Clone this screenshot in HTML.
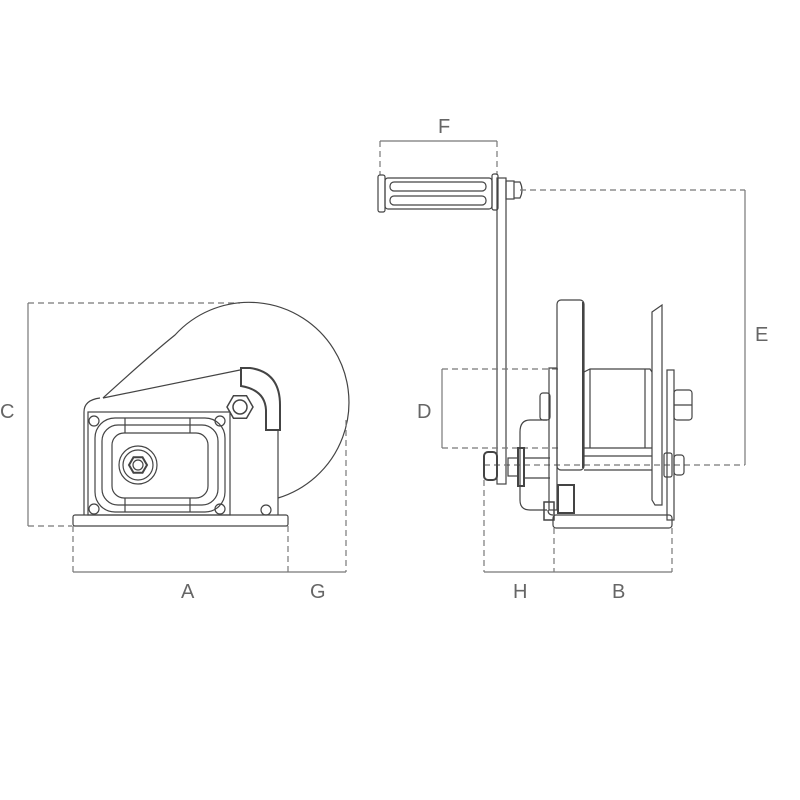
<!DOCTYPE html>
<html><head><meta charset="utf-8"><style>
html,body{margin:0;padding:0;background:#fff;}
svg{display:block;}
text{font-family:"Liberation Sans",sans-serif;font-size:20px;fill:#666;}
</style></head><body>
<svg width="800" height="800" viewBox="0 0 800 800" xmlns="http://www.w3.org/2000/svg">
<g fill="none" stroke="#444" stroke-width="1.2">
<!-- ===== LEFT VIEW ===== -->
<line x1="28" y1="303" x2="240" y2="303" stroke-dasharray="6,4" stroke="#777"/>
<line x1="28" y1="526" x2="72" y2="526" stroke-dasharray="6,4" stroke="#777"/>
<line x1="28" y1="303" x2="28" y2="526" stroke="#777"/>
<path d="M103 398 C125 378 150 355 175 335 A100 100 0 1 1 278 498"/>
<path d="M103 398 L240 370"/>
<path d="M84 515 L84 412 Q84 400 100 398"/>
<line x1="278" y1="420" x2="278" y2="515"/>
<rect x="73" y="515" width="215" height="11" rx="2"/>
<rect x="88" y="412" width="142" height="103"/>
<rect x="95" y="418" width="130" height="94" rx="20"/>
<rect x="102" y="425" width="116" height="80" rx="16"/>
<rect x="112" y="433" width="96" height="65" rx="12"/>
<line x1="125" y1="418" x2="125" y2="433"/><line x1="190" y1="418" x2="190" y2="433"/>
<line x1="125" y1="498" x2="125" y2="512"/><line x1="190" y1="498" x2="190" y2="512"/>
<circle cx="94" cy="421" r="5"/><circle cx="220" cy="421" r="5"/>
<circle cx="94" cy="509" r="5"/><circle cx="220" cy="509" r="5"/>
<circle cx="266" cy="510" r="5"/>
<circle cx="138" cy="465" r="19"/><circle cx="138" cy="465" r="15"/>
<polygon points="147,465 142.5,457.2 133.5,457.2 129,465 133.5,472.8 142.5,472.8" stroke-width="2"/>
<circle cx="138" cy="465" r="5"/>
<polygon points="253,407 246.5,395.7 233.5,395.7 227,407 233.5,418.3 246.5,418.3" stroke-width="1.5"/>
<circle cx="240" cy="407" r="7" stroke-width="1.5"/>
<path d="M241 368 L250 368 Q280 372 280 405 L280 430 L266 430 L266 410 Q265 390 241 386 Z" stroke-width="2" fill="#fff"/>
<line x1="73" y1="526" x2="73" y2="572" stroke-dasharray="6,4" stroke="#777"/>
<line x1="288" y1="526" x2="288" y2="572" stroke-dasharray="6,4" stroke="#777"/>
<line x1="346" y1="420" x2="346" y2="572" stroke-dasharray="6,4" stroke="#777"/>
<line x1="73" y1="572" x2="346" y2="572" stroke="#777"/>

<!-- ===== RIGHT VIEW ===== -->
<line x1="380" y1="141" x2="497" y2="141" stroke="#777"/>
<line x1="380" y1="141" x2="380" y2="175" stroke-dasharray="6,4" stroke="#777"/>
<line x1="497" y1="141" x2="497" y2="175" stroke-dasharray="6,4" stroke="#777"/>
<rect x="378" y="175" width="7" height="37" rx="2"/>
<rect x="385" y="178" width="107" height="31" rx="3"/>
<rect x="390" y="182" width="96" height="9" rx="4"/>
<rect x="390" y="196" width="96" height="9" rx="4"/>
<rect x="492" y="174" width="6" height="36" rx="2"/>
<rect x="497" y="178" width="9" height="306"/>
<rect x="506" y="181" width="8" height="18"/>
<path d="M514 182 L520 182 Q524 190 520 198 L514 198"/>
<line x1="520" y1="190" x2="745" y2="190" stroke-dasharray="6,4" stroke="#777"/>
<line x1="745" y1="190" x2="745" y2="465" stroke="#777"/>
<line x1="484" y1="465" x2="745" y2="465" stroke-dasharray="6,4" stroke="#777"/>
<line x1="442" y1="369" x2="560" y2="369" stroke-dasharray="6,4" stroke="#777"/>
<line x1="442" y1="448" x2="560" y2="448" stroke-dasharray="6,4" stroke="#777"/>
<line x1="442" y1="369" x2="442" y2="448" stroke="#777"/>
<rect x="557" y="300" width="27" height="170" rx="4"/>
<line x1="583" y1="302" x2="583" y2="468" stroke-width="2"/>
<path d="M584 372 L590 369 L650 369 L652 372 M584 448 L652 448 M584 456 L652 456 M584 470 L652 470"/>
<line x1="590" y1="369" x2="590" y2="448"/>
<line x1="645" y1="369" x2="645" y2="448"/>
<path d="M652 312 L662 305 L662 505 L655 505 L652 500 Z"/>
<rect x="549" y="368" width="8" height="142"/>
<rect x="667" y="370" width="7" height="150"/>
<rect x="553" y="515" width="119" height="13" rx="3"/>
<path d="M553 515 Q548 515 548 510"/>
<rect x="540" y="393" width="10" height="27" rx="3"/>
<rect x="674" y="390" width="18" height="30" rx="3"/>
<line x1="674" y1="405" x2="692" y2="405"/>
<rect x="664" y="453" width="8" height="24" rx="2"/>
<rect x="674" y="455" width="10" height="20" rx="3"/>
<path d="M547 420 L530 420 Q520 420 520 432 L520 500 Q520 510 530 510 L547 510"/>
<rect x="558" y="485" width="16" height="28" stroke-width="2"/>
<rect x="544" y="502" width="10" height="18" stroke-width="1.5"/>
<rect x="484" y="452" width="13" height="28" rx="4" stroke-width="2"/>
<rect x="508" y="458" width="10" height="18"/>
<rect x="518" y="448" width="6" height="38" stroke-width="2"/>
<line x1="524" y1="458" x2="550" y2="458"/><line x1="524" y1="478" x2="550" y2="478"/>
<line x1="484" y1="480" x2="484" y2="572" stroke-dasharray="6,4" stroke="#777"/>
<line x1="554" y1="528" x2="554" y2="572" stroke-dasharray="6,4" stroke="#777"/>
<line x1="672" y1="528" x2="672" y2="572" stroke-dasharray="6,4" stroke="#777"/>
<line x1="484" y1="572" x2="672" y2="572" stroke="#777"/>
</g>
<text x="0" y="418">C</text>
<text x="181" y="598">A</text>
<text x="310" y="598">G</text>
<text x="438" y="133">F</text>
<text x="755" y="341">E</text>
<text x="417" y="418">D</text>
<text x="513" y="598">H</text>
<text x="612" y="598">B</text>
</svg>
</body></html>
